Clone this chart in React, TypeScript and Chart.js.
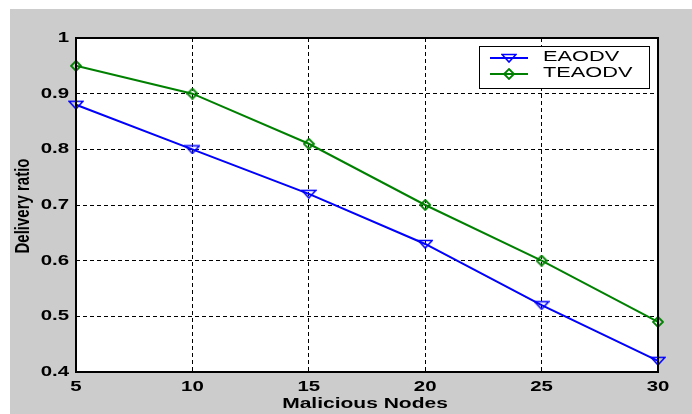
import React, { useEffect, useRef } from "react";
import { Chart, registerables } from "chart.js";

Chart.register(...registerables);

const categories = [5, 10, 15, 20, 25, 30];
const eaodv = [0.88, 0.8, 0.72, 0.63, 0.52, 0.42];
const teaodv = [0.95, 0.9, 0.81, 0.7, 0.6, 0.49];
const seriesNames = ["EAODV", "TEAODV"];
const xTitle = "Malicious Nodes";
const yTitle = "Delivery ratio";
const xTickStep = 5;
const yTickStep = 0.1;

const FONT = "'Liberation Sans', Arial, Helvetica, sans-serif";
const STRETCH = 1.36;

function stretchedText(ctx: CanvasRenderingContext2D, text: string, x: number, y: number, align: "left" | "center" | "right", sx: number) {
  ctx.save();
  ctx.translate(x, y);
  ctx.scale(sx, 1);
  ctx.textAlign = align;
  ctx.textBaseline = "middle";
  ctx.fillText(text, 0, 0);
  ctx.restore();
}

function makeTriangle(color: string) {
  const c = document.createElement("canvas");
  c.width = 16;
  c.height = 10;
  const g = c.getContext("2d")!;
  g.strokeStyle = color;
  g.lineWidth = 1.6;
  g.beginPath();
  g.moveTo(1, 1.5);
  g.lineTo(15, 1.5);
  g.lineTo(8, 9);
  g.closePath();
  g.stroke();
  return c;
}

function makeDiamond(color: string) {
  const c = document.createElement("canvas");
  c.width = 12;
  c.height = 12;
  const g = c.getContext("2d")!;
  g.strokeStyle = color;
  g.lineWidth = 1.8;
  g.beginPath();
  g.moveTo(6, 1);
  g.lineTo(11, 6);
  g.lineTo(6, 11);
  g.lineTo(1, 6);
  g.closePath();
  g.stroke();
  return c;
}

const fmt = (v: number) => String(Math.round(v * 10) / 10);

const bgPlugin = {
  id: "bgPlugin",
  beforeDraw(chart: any) {
    const { ctx, width, height, chartArea } = chart;
    ctx.save();
    ctx.fillStyle = "#ffffff";
    ctx.fillRect(0, 0, width, height);
    ctx.fillStyle = "#cccccc";
    ctx.fillRect(10, 9, width - 10, height - 9);
    ctx.fillStyle = "#ffffff";
    ctx.fillRect(chartArea.left, chartArea.top, chartArea.right - chartArea.left, chartArea.bottom - chartArea.top);
    ctx.restore();
  },
  afterDatasetsDraw(chart: any) {
    const { ctx, chartArea } = chart;
    const xs = chart.scales.x;
    const ys = chart.scales.y;
    ctx.save();
    ctx.strokeStyle = "#000000";
    ctx.lineWidth = 2;
    ctx.strokeRect(chartArea.left, chartArea.top, chartArea.right - chartArea.left, chartArea.bottom - chartArea.top);

    // tick labels
    ctx.fillStyle = "#000000";
    ctx.font = `bold 15px ${FONT}`;
    ys.ticks.forEach((t: any) => {
      const py = ys.getPixelForValue(t.value);
      stretchedText(ctx, fmt(t.value), chartArea.left - 7, py, "right", STRETCH);
    });
    xs.ticks.forEach((t: any) => {
      const px = xs.getPixelForValue(t.value);
      stretchedText(ctx, String(t.value), px, chartArea.bottom + 15, "center", STRETCH);
    });
    // titles
    stretchedText(ctx, xTitle, (chartArea.left + chartArea.right) / 2 - 2, chartArea.bottom + 32, "center", 1.4);
    ctx.save();
    ctx.translate(24, (chartArea.top + chartArea.bottom) / 2 + 1);
    ctx.rotate(-Math.PI / 2);
    ctx.scale(1, 1.3);
    ctx.textAlign = "center";
    ctx.textBaseline = "middle";
    ctx.fillText(yTitle, 0, 0);
    ctx.restore();

    // legend
    const lx = 479, ly = 46, lw = 170, lh = 42;
    ctx.fillStyle = "#ffffff";
    ctx.fillRect(lx, ly, lw, lh);
    ctx.strokeStyle = "#000000";
    ctx.lineWidth = 1;
    ctx.strokeRect(lx + 0.5, ly + 0.5, lw, lh);
    chart.data.datasets.forEach((ds: any, i: number) => {
      const y = 58 + i * 16;
      ctx.strokeStyle = ds.borderColor;
      ctx.lineWidth = 2;
      ctx.beginPath();
      ctx.moveTo(490, y);
      ctx.lineTo(528, y);
      ctx.stroke();
      const img = ds.pointStyle as HTMLCanvasElement;
      ctx.fillStyle = "#ffffff";
      ctx.drawImage(img, Math.round(509 - img.width / 2), Math.round(y - img.height / 2));
      ctx.fillStyle = "#000000";
      ctx.font = `15px ${FONT}`;
      stretchedText(ctx, ds.label, 543, y - 1, "left", 1.45);
    });
    ctx.restore();
  },
};

export default function App() {
  const ref = useRef<HTMLCanvasElement>(null);
  useEffect(() => {
    if (!ref.current) return;
    const tri = makeTriangle("#0000ff");
    const dia = makeDiamond("#008000");
    const chart = new Chart(ref.current, {
      type: "line",
      data: {
        datasets: [
          {
            label: seriesNames[0],
            data: categories.map((x, i) => ({ x, y: eaodv[i] })),
            borderColor: "#0000ff",
            backgroundColor: "#ffffff",
            borderWidth: 2,
            pointStyle: tri as any,
            pointRadius: 6,
          },
          {
            label: seriesNames[1],
            data: categories.map((x, i) => ({ x, y: teaodv[i] })),
            borderColor: "#008000",
            backgroundColor: "#ffffff",
            borderWidth: 2,
            pointStyle: dia as any,
            pointRadius: 6,
          },
        ],
      },
      options: {
        animation: false,
        responsive: false,
        clip: false as any,
        layout: { padding: { left: 10, top: 38, right: 34, bottom: 0 } },
        plugins: { legend: { display: false }, tooltip: { enabled: false } },
        scales: {
          x: {
            type: "linear",
            min: 5,
            max: 30,
            border: { display: false, dash: [4, 3] },
            afterFit: (s: any) => { s.height = 42; },
            ticks: { stepSize: xTickStep, display: false },
            grid: { color: "#000", lineWidth: 1, drawTicks: false, borderDash: [4, 3] } as any,
          },
          y: {
            type: "linear",
            min: 0.4,
            max: 1,
            border: { display: false, dash: [4, 3] },
            afterFit: (s: any) => { s.width = 66; },
            ticks: { stepSize: yTickStep, display: false },
            grid: { color: "#000", lineWidth: 1, drawTicks: false, borderDash: [4, 3] } as any,
          },
        },
      },
      plugins: [bgPlugin],
    });
    return () => chart.destroy();
  }, []);
  return (
    <div style={{ position: "fixed", left: 0, top: 0, width: 692, height: 414 }}>
      <canvas ref={ref} width={692} height={414} />
    </div>
  );
}
